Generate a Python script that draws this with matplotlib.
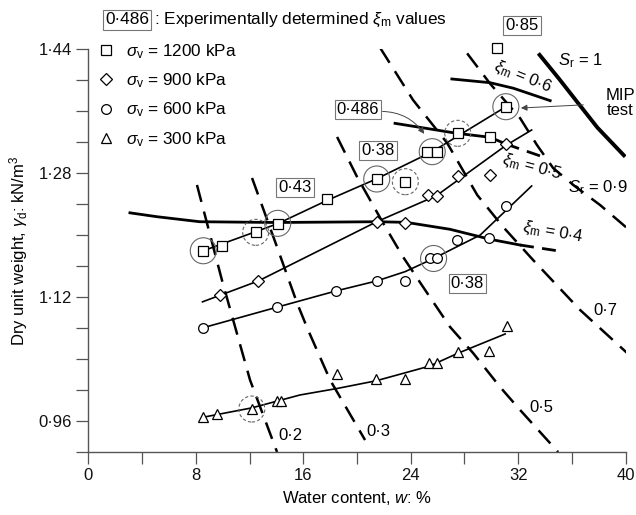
import matplotlib
matplotlib.use('Agg')
import matplotlib.pyplot as plt
from matplotlib.patches import Ellipse
from matplotlib.lines import Line2D

plt.rcParams['font.family'] = ['Liberation Sans', 'DejaVu Sans']
plt.rcParams['mathtext.fontset'] = 'custom'
plt.rcParams['mathtext.rm'] = 'Liberation Sans'
plt.rcParams['mathtext.it'] = 'Liberation Sans:italic'
plt.rcParams['mathtext.sf'] = 'Liberation Sans'

# ---------------- data ----------------
w1200 = [8.56, 9.98, 12.46, 14.10, 17.77, 21.47, 23.6, 25.24, 25.94, 27.5, 29.91, 31.08, 30.41]
g1200 = [1.180, 1.186, 1.204, 1.215, 1.2465, 1.273, 1.269, 1.308, 1.308, 1.332, 1.327, 1.366, 1.4415]

w900 = [9.81, 12.66, 21.47, 23.6, 25.3, 25.94, 27.5, 29.91, 31.08]
g900 = [1.123, 1.141, 1.2175, 1.216, 1.252, 1.2507, 1.2766, 1.278, 1.318]

w600 = [8.56, 14.03, 18.42, 21.47, 23.58, 25.44, 25.94, 27.48, 29.86, 31.1]
g600 = [1.0806, 1.107, 1.128, 1.141, 1.141, 1.170, 1.170, 1.194, 1.196, 1.238]

w300 = [8.51, 9.61, 12.17, 14.08, 14.33, 18.54, 21.42, 23.58, 25.39, 25.94, 27.5, 29.86, 31.15]
g300 = [0.9656, 0.9691, 0.9755, 0.9855, 0.9855, 1.0207, 1.0147, 1.0139, 1.0353, 1.0346, 1.0488, 1.0509, 1.0832]

# fitted trend lines
fit1200_w = [8.56, 14.1, 17.77, 21.47, 25.6, 31.08]
fit1200_g = [1.180, 1.215, 1.245, 1.273, 1.308, 1.366]
fit900_w = [8.5, 12.66, 17.5, 21.47, 25.9, 31.08, 33.0]
fit900_g = [1.114, 1.141, 1.183, 1.2175, 1.251, 1.316, 1.336]
fit600_w = [8.56, 14.03, 18.42, 21.47, 23.58, 25.7, 29.17, 33.0]
fit600_g = [1.0806, 1.107, 1.128, 1.141, 1.153, 1.170, 1.2003, 1.2637]
fit300_w = [8.51, 12.17, 15.76, 18.5, 21.42, 25.4, 27.5, 31.03]
fit300_g = [0.9648, 0.977, 0.9937, 1.002, 1.012, 1.031, 1.0475, 1.0725]

# constant xi_m curves
xi04_w = [3.1, 5.1, 8.3, 14.0, 21.5, 23.66, 26.93, 29.91, 32.14]
xi04_g = [1.229, 1.224, 1.2175, 1.2165, 1.2175, 1.2167, 1.2077, 1.1948, 1.1874]
xi04_ext_w = [32.14, 34.9]
xi04_ext_g = [1.1874, 1.180]
xi05_w = [22.83, 25.2, 27.43, 29.91, 31.08]
xi05_g = [1.3446, 1.338, 1.3317, 1.3266, 1.3179]
xi05_ext_w = [31.08, 33.8]
xi05_ext_g = [1.3179, 1.3015]
xi06_w = [27.06, 29.91, 31.65, 34.38]
xi06_g = [1.4019, 1.3971, 1.3899, 1.3739]

# degree of saturation contours
sr1_w = [33.5, 35.0, 36.4, 37.9, 39.96]
sr1_g = [1.435, 1.403, 1.372, 1.339, 1.3015]
sr02_w = [8.09, 9.95, 12.04, 14.05]
sr02_g = [1.265, 1.142, 1.013, 0.920]
sr03_w = [12.19, 14.05, 15.54, 16.36, 18.0, 20.6]
sr03_g = [1.274, 1.1848, 1.1124, 1.0776, 1.013, 0.9355]
sr05_w = [18.52, 20.01, 21.94, 23.43, 24.92, 26.93, 28.64, 30.65, 32.14, 34.97]
sr05_g = [1.327, 1.2753, 1.2159, 1.172, 1.1332, 1.0815, 1.0479, 1.004, 0.9743, 0.920]
sr07_w = [21.73, 24.17, 26.71, 28.95, 30.88, 33.11, 36.6, 40.1]
sr07_g = [1.442, 1.3748, 1.3192, 1.252, 1.2107, 1.168, 1.1036, 1.048]
sr09_w = [28.2, 29.9, 32.14, 33.4, 34.6, 36.2, 38.1, 40.1]
sr09_g = [1.435, 1.396, 1.3513, 1.3165, 1.2868, 1.2636, 1.239, 1.2093]

# circled (experimentally determined) points
circ_solid_w = [8.56, 14.10, 21.47, 25.6, 31.08, 25.7]
circ_solid_g = [1.180, 1.2154, 1.2727, 1.308, 1.3661, 1.170]
circ_dash_w = [12.46, 23.6, 27.5, 12.17]
circ_dash_g = [1.2038, 1.2692, 1.3317, 0.9755]

xticks = [0, 8, 16, 24, 32, 40]
xticklabels = ['0', '8', '16', '24', '32', '40']
yticks = [0.96, 1.12, 1.28, 1.44]
yticklabels = ['0·96', '1·12', '1·28', '1·44']

# ---------------- figure ----------------
fig = plt.figure(figsize=(6.36, 5.15), dpi=100)
ax = fig.add_axes([0.1388, 0.1223, 0.8450, 0.7816])
ax.set_xlim(0, 40)
ax.set_ylim(0.92, 1.44)

dash = (0, (7, 4))
for ww, gg in [(sr02_w, sr02_g), (sr03_w, sr03_g), (sr05_w, sr05_g),
               (sr07_w, sr07_g), (sr09_w, sr09_g)]:
    ax.plot(ww, gg, color='black', lw=1.8, ls=dash, zorder=2)
ax.plot(sr1_w, sr1_g, color='black', lw=2.8, zorder=2, solid_capstyle='butt')

for ww, gg in [(xi04_w, xi04_g), (xi05_w, xi05_g), (xi06_w, xi06_g)]:
    ax.plot(ww, gg, color='black', lw=2.0, zorder=3)
for ww, gg in [(xi04_ext_w, xi04_ext_g), (xi05_ext_w, xi05_ext_g)]:
    ax.plot(ww, gg, color='black', lw=2.0, ls=(0, (5, 3)), zorder=3)

for ww, gg in [(fit1200_w, fit1200_g), (fit900_w, fit900_g),
               (fit600_w, fit600_g), (fit300_w, fit300_g)]:
    ax.plot(ww, gg, color='black', lw=1.2, zorder=4)

mk = dict(ls='none', mfc='white', mec='black', mew=0.9, zorder=6, clip_on=False)
ax.plot(w1200, g1200, marker='s', ms=7, **mk)
ax.plot(w900, g900, marker='D', ms=6.3, **mk)
ax.plot(w600, g600, marker='o', ms=7, **mk)
ax.plot(w300, g300, marker='^', ms=7.5, **mk)

rw, rg = 2 * 13 / 13.43, 2 * 13 / 774.0
for cx, cy in zip(circ_solid_w, circ_solid_g):
    ax.add_patch(Ellipse((cx, cy), rw, rg, fill=False, ec='#666666', lw=0.8, zorder=5))
for cx, cy in zip(circ_dash_w, circ_dash_g):
    ax.add_patch(Ellipse((cx, cy), rw, rg, fill=False, ec='#666666', lw=0.8,
                         ls=(0, (3, 2)), zorder=5))

# axes styling
for s in ['top', 'right']:
    ax.spines[s].set_visible(False)
for s in ['left', 'bottom']:
    ax.spines[s].set_color('#555555')
    ax.spines[s].set_linewidth(1.0)
ax.set_xticks(xticks)
ax.set_xticklabels(xticklabels)
ax.set_xticks([4, 12, 20, 28, 36], minor=True)
ax.set_yticks(yticks)
ax.set_yticklabels(yticklabels)
ax.set_yticks([0.92, 1.00, 1.04, 1.08, 1.16, 1.20, 1.24, 1.32, 1.36, 1.40], minor=True)
ax.tick_params(which='both', direction='out', length=8.6, width=0.9, color='#555555',
               labelsize=12, labelcolor='#111111', pad=3)
ax.set_xlabel('Water content, $w$: %', fontsize=12, labelpad=4)
ax.set_ylabel(r'Dry unit weight, $\gamma_\mathrm{d}$: kN/m$^3$', fontsize=12, labelpad=6)

# legend
handles = [Line2D([], [], marker='s', ms=7, ls='none', mfc='white', mec='black', mew=0.9),
           Line2D([], [], marker='D', ms=6.3, ls='none', mfc='white', mec='black', mew=0.9),
           Line2D([], [], marker='o', ms=7, ls='none', mfc='white', mec='black', mew=0.9),
           Line2D([], [], marker='^', ms=7.5, ls='none', mfc='white', mec='black', mew=0.9)]
labels = [r'$\sigma_\mathrm{v}$ = 1200 kPa', r'$\sigma_\mathrm{v}$ = 900 kPa',
          r'$\sigma_\mathrm{v}$ = 600 kPa', r'$\sigma_\mathrm{v}$ = 300 kPa']
ax.legend(handles, labels, loc='upper left', bbox_to_anchor=(97 / 636, 1 - 42 / 515),
          bbox_transform=fig.transFigure, frameon=False, fontsize=12.3, handlelength=1.0,
          handletextpad=0.7, labelspacing=0.62, borderpad=0, borderaxespad=0)

box = dict(boxstyle='square,pad=0.12', fc='white', ec='#777777', lw=0.8)
fig.text(105 / 636, 1 - 20 / 515, '0·486', fontsize=12.4, va='center', ha='left', bbox=box)
fig.text(154 / 636, 1 - 20 / 515, r': Experimentally determined $\xi_\mathrm{m}$ values',
         fontsize=12.4, va='center', ha='left')

# boxed values
tk = dict(fontsize=12, ha='center', va='center', bbox=box, zorder=8)
ax.text(32.29, 1.4704, '0·85', clip_on=False, **tk)
ax.text(20.08, 1.3631, '0·486', **tk)
ax.text(21.57, 1.3089, '0·38', **tk)
ax.text(15.39, 1.2611, '0·43', **tk)
ax.text(28.2, 1.1383, '0·38', **tk)

ax.annotate('', xy=(25.0, 1.331), xytext=(21.9, 1.360),
            arrowprops=dict(arrowstyle='-|>', color='#444444', lw=0.7, mutation_scale=9,
                            connectionstyle='arc3,rad=-0.25', shrinkA=0, shrinkB=0))
ax.annotate('MIP\ntest', xy=(32.2, 1.3644), xytext=(39.6, 1.3709), fontsize=12,
            ha='center', va='center', linespacing=1.0, annotation_clip=False,
            arrowprops=dict(arrowstyle='-|>', color='#444444', lw=0.7, mutation_scale=9,
                            shrinkA=14, shrinkB=0))

# curve labels
ax.text(36.6, 1.425, r'$S_\mathrm{r}$ = 1', fontsize=12, ha='center', va='center')
ax.text(37.95, 1.261, r'$S_\mathrm{r}$ = 0·9', fontsize=12, ha='center', va='center')
ax.text(32.3, 1.4045, r'$\xi_\mathrm{m}$ = $0{\cdot}6$', fontsize=12, ha='center', va='center', rotation=-22)
ax.text(33.04, 1.288, r'$\xi_\mathrm{m}$ = $0{\cdot}5$', fontsize=12, ha='center', va='center', rotation=-15)
ax.text(34.53, 1.2042, r'$\xi_\mathrm{m}$ = $0{\cdot}4$', fontsize=12, ha='center', va='center', rotation=-10)
ax.text(38.47, 1.1034, '0·7', fontsize=12, ha='center', va='center')
ax.text(33.7, 0.977, '0·5', fontsize=12, ha='center', va='center')
ax.text(21.57, 0.946, '0·3', fontsize=12, ha='center', va='center')
ax.text(15.02, 0.9407, '0·2', fontsize=12, ha='center', va='center')

fig.savefig('out.png', dpi=100)
